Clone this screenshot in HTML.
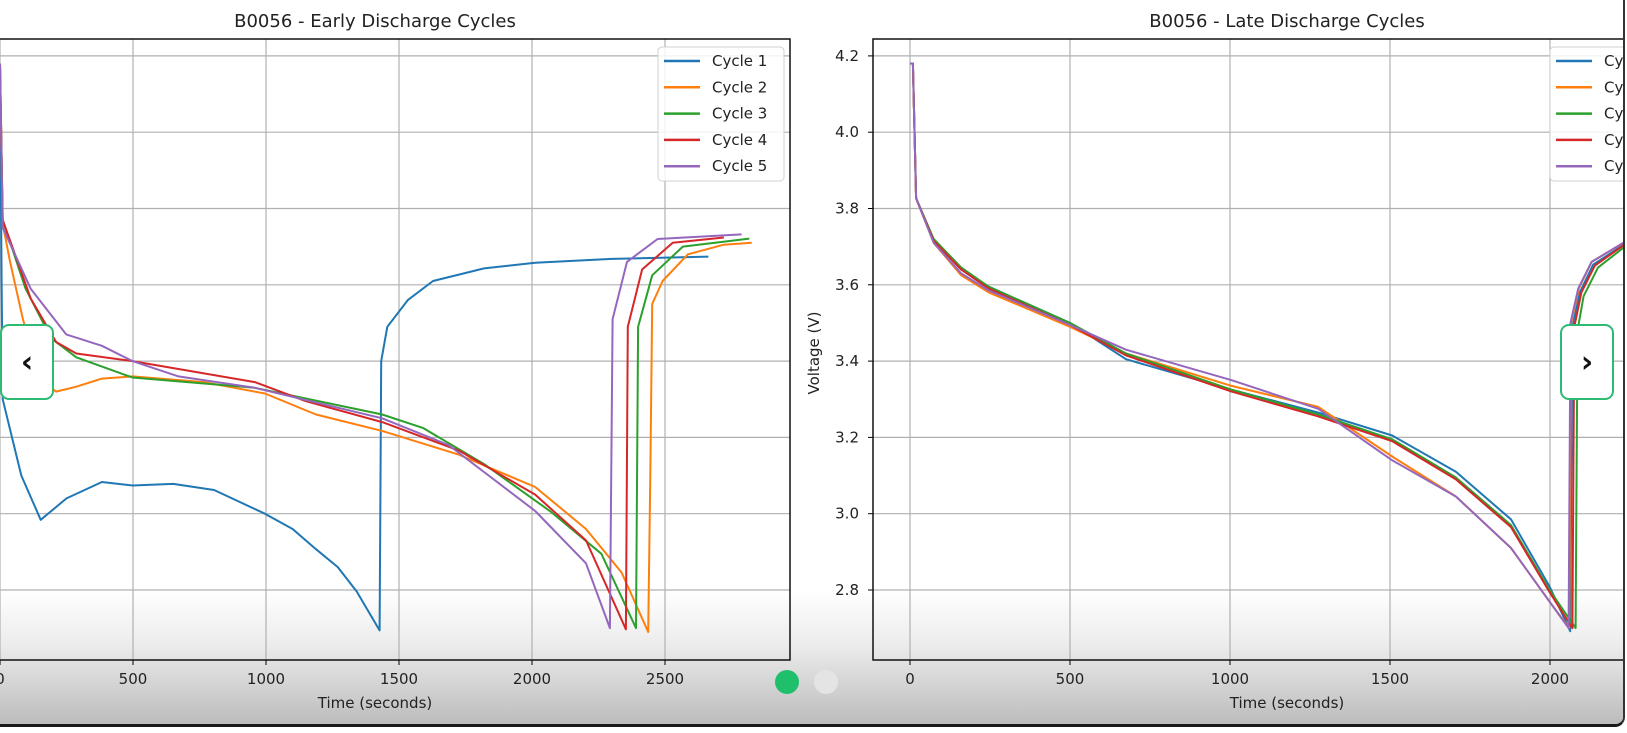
<!DOCTYPE html>
<html><head><meta charset="utf-8">
<style>
html,body{margin:0;padding:0;background:#fff;}
body{width:1627px;height:733px;overflow:hidden;position:relative;font-family:"DejaVu Sans","Liberation Sans",sans-serif;}
#card{position:absolute;left:0;top:0;width:1625px;height:727px;border-bottom:3px solid #1a1a1a;border-right:2px solid #333;border-bottom-right-radius:10px;overflow:hidden;box-sizing:border-box;background:#fff;}
.nav{position:absolute;top:324px;width:54px;height:76px;background:#fff;border:2px solid #2dbb74;border-radius:9px;box-sizing:border-box;display:flex;align-items:center;justify-content:center;font-size:30px;font-weight:bold;color:#111;}
.dot{position:absolute;top:670px;width:24px;height:24px;border-radius:50%;}
</style></head><body>
<div id="card">
<svg id="svg" width="1627" height="733" style="position:absolute;left:0;top:0">
<defs>
<clipPath id="clipL"><rect x="0" y="39" width="790" height="621"/></clipPath>
<clipPath id="clipR"><rect x="873" y="39" width="760" height="621"/></clipPath>
<linearGradient id="fadeG" x1="0" y1="0" x2="0" y2="1">
<stop offset="0" stop-color="#fff"/><stop offset="0.4" stop-color="#ececec"/><stop offset="1" stop-color="#bababa"/>
</linearGradient>
</defs>
<rect x="0" y="590" width="1627" height="137" fill="url(#fadeG)"/>
<g id="gL"></g><g id="gR"></g>
</svg>
<div class="nav" style="left:0">&#8249;</div>
<div class="nav" style="left:1560px">&#8250;</div>
<div class="dot" style="left:775px;background:#1fbf6c"></div>
<div class="dot" style="left:814px;background:#e4e4e4"></div>
</div>
<script>
const names=["Cycle 1","Cycle 2","Cycle 3","Cycle 4","Cycle 5"];
const colors=["#1f77b4","#ff7f0e","#2ca02c","#d62728","#9467bd"];
const xTicksL=[0,500,1000,1500,2000,2500];
const xTicksR=[0,500,1000,1500,2000];
const yTicks=[2.8,3.0,3.2,3.4,3.6,3.8,4.0,4.2];
const yTickLabels=["2.8","3.0","3.2","3.4","3.6","3.8","4.0","4.2"];
// Early cycles
const e1t=[0,6,10,80,153,250,383,498,651,805,996,1100,1188,1270,1341,1427,1433,1456,1533,1628,1820,2012,2300,2663];
const e1v=[4.18,3.61,3.30,3.10,2.984,3.04,3.083,3.074,3.078,3.062,3.0,2.96,2.907,2.86,2.796,2.694,3.40,3.49,3.56,3.61,3.643,3.658,3.668,3.674];
const e2t=[0,10,38,86,153,211,287,383,498,766,996,1188,1437,1724,2012,2203,2337,2437,2445,2452,2491,2586,2721,2826];
const e2v=[4.18,3.76,3.66,3.51,3.35,3.32,3.333,3.354,3.36,3.345,3.315,3.26,3.217,3.155,3.07,2.96,2.846,2.69,3.12,3.55,3.61,3.68,3.705,3.71];
const e3t=[0,10,96,192,287,498,958,1437,1590,1820,2069,2261,2391,2399,2452,2567,2817];
const e3v=[4.18,3.77,3.59,3.46,3.41,3.357,3.33,3.26,3.225,3.13,3.006,2.895,2.70,3.49,3.625,3.70,3.721];
const e4t=[0,10,115,211,287,498,958,1150,1437,1724,2012,2203,2353,2360,2414,2529,2721];
const e4v=[4.18,3.77,3.565,3.45,3.42,3.40,3.345,3.295,3.24,3.166,3.05,2.93,2.697,3.49,3.64,3.71,3.724];
const e5t=[0,10,115,249,383,498,671,958,1437,1686,2012,2203,2293,2303,2357,2472,2788];
const e5v=[4.18,3.75,3.59,3.47,3.44,3.40,3.36,3.33,3.25,3.18,3.007,2.87,2.70,3.51,3.66,3.72,3.732];
// Late cycles
const l1t=[0,9,19,74,160,246,500,675,1005,1276,1507,1706,1878,1998,2063,2070,2093,2135,2249];
const l1v=[4.18,4.18,3.827,3.715,3.64,3.595,3.50,3.405,3.325,3.265,3.205,3.11,2.985,2.81,2.692,3.49,3.58,3.653,3.715];
const l2t=[0,9,19,74,160,246,500,675,1005,1276,1507,1706,1878,1998,2060,2066,2090,2130,2249];
const l2v=[4.18,4.18,3.827,3.71,3.625,3.58,3.49,3.42,3.335,3.28,3.15,3.045,2.91,2.77,2.70,3.50,3.59,3.66,3.72];
const l3t=[0,9,19,74,160,246,500,675,1005,1276,1507,1706,1878,1998,2080,2086,2105,2150,2249];
const l3v=[4.18,4.18,3.827,3.72,3.645,3.595,3.50,3.42,3.325,3.26,3.195,3.095,2.97,2.80,2.70,3.48,3.57,3.645,3.71];
const l4t=[0,9,19,74,160,246,500,675,1005,1276,1507,1706,1878,1998,2070,2076,2098,2140,2249];
const l4v=[4.18,4.18,3.827,3.715,3.64,3.59,3.495,3.415,3.32,3.255,3.19,3.09,2.965,2.795,2.70,3.49,3.58,3.65,3.715];
const l5t=[0,9,19,74,160,246,500,675,1005,1276,1507,1706,1878,1998,2058,2064,2088,2130,2249];
const l5v=[4.18,4.18,3.827,3.71,3.63,3.585,3.495,3.43,3.35,3.275,3.14,3.045,2.91,2.77,2.70,3.50,3.59,3.66,3.72];
const earlyT=[e1t,e2t,e3t,e4t,e5t], earlyV=[e1v,e2v,e3v,e4v,e5v];
const lateT=[l1t,l2t,l3t,l4t,l5t], lateV=[l1v,l2v,l3v,l4v,l5v];

const NS="http://www.w3.org/2000/svg";
const yS=v=>590-(v-2.8)*381.5;
function mk(tag,attrs,parent,text){const e=document.createElementNS(NS,tag);for(const k in attrs)e.setAttribute(k,attrs[k]);if(text!==undefined)e.textContent=text;parent.appendChild(e);return e;}

function drawChart(g,xS,left,right,ticks,T,V,clip,title,titleX,legX,showY,key){
  const top=39,bot=660;
  ticks.forEach(t=>{
    const gl=mk('line',{x1:xS(t),x2:xS(t),y1:top,y2:bot,stroke:'#b0b0b0','stroke-width':1.2},g);
    
    
    mk('line',{x1:xS(t),x2:xS(t),y1:bot,y2:bot+5,stroke:'#000','stroke-width':1},g);
    const tl=mk('text',{x:xS(t),y:bot+24,'text-anchor':'middle','font-size':15,fill:'#222'},g,String(t));
    
    
  });
  yTicks.forEach((v,i)=>{
    const gl=mk('line',{x1:left,x2:right,y1:yS(v),y2:yS(v),stroke:'#b0b0b0','stroke-width':1.2},g);
    
    
    if(showY){
      mk('line',{x1:left-5,x2:left,y1:yS(v),y2:yS(v),stroke:'#000'},g);
      const tl=mk('text',{x:left-14,y:yS(v)+5,'text-anchor':'end','font-size':15,fill:'#222'},g,yTickLabels[i]);
      
      
    }
  });
  const lg=mk('g',{'clip-path':'url(#'+clip+')'},g);
  T.forEach((ts,i)=>{
    let d='';ts.forEach((t,j)=>{d+=(j?'L':'M')+xS(t).toFixed(1)+','+yS(V[i][j]).toFixed(1);});
    const p=mk('path',{d:d,fill:'none',stroke:colors[i],'stroke-width':2,'stroke-linejoin':'round'},lg);
    
    
  });
  const fr=mk('rect',{x:left,y:top,width:right-left,height:bot-top,fill:'none',stroke:'#111','stroke-width':1.5},g);
  
  
  const tt=mk('text',{x:titleX,y:27,'text-anchor':'middle','font-size':18,fill:'#222'},g,title);
  
  
  const xt=mk('text',{x:titleX,y:bot+48,'text-anchor':'middle','font-size':15,fill:'#222'},g,'Time (seconds)');
  
  
  const leg=mk('g',{},g);
  
  
  mk('rect',{x:legX,y:47,width:126,height:134,rx:4,fill:'#fff','fill-opacity':0.85,stroke:'#d0d0d0'},leg);
  names.forEach((n,i)=>{
    const y=61+i*26.3;
    mk('line',{x1:legX+6,x2:legX+42,y1:y,y2:y,stroke:colors[i],'stroke-width':2.5},leg);
    const lt=mk('text',{x:legX+54,y:y+5,'font-size':15,fill:'#222'},leg,n);
    
    
  });
}
const xL=t=>0+t*0.266;
const xR=t=>910+t*0.32;
drawChart(document.getElementById('gL'),xL,-3,790,xTicksL,earlyT,earlyV,'clipL','B0056 - Early Discharge Cycles',375,658,false,'early');
drawChart(document.getElementById('gR'),xR,873,1700,xTicksR,lateT,lateV,'clipR','B0056 - Late Discharge Cycles',1287,1550,true,'late');
const yl=mk('text',{x:0,y:0,'text-anchor':'middle','font-size':15,fill:'#222',transform:'translate(819,353) rotate(-90)'},document.getElementById('gR'),'Voltage (V)');


</script>
</body></html>
